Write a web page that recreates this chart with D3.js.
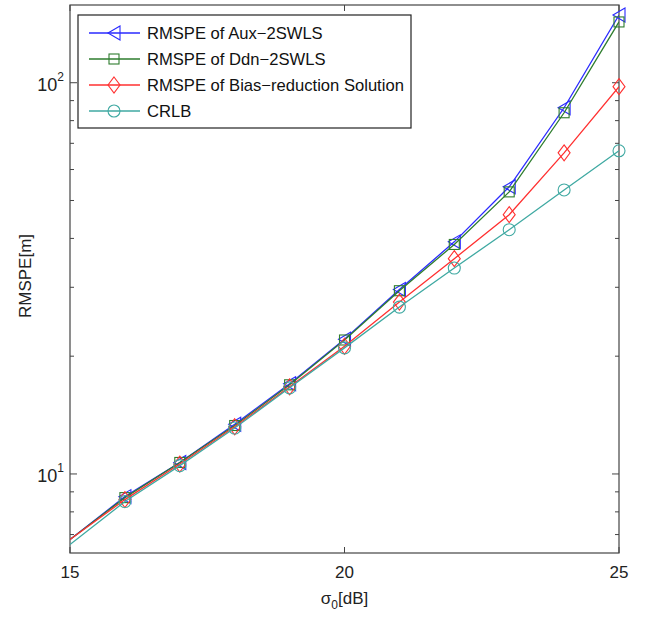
<!DOCTYPE html>
<html>
<head>
<meta charset="utf-8">
<script src="https://cdn.jsdelivr.net/npm/d3@7.9.0/dist/d3.min.js"></script>
<style>
  body { margin: 0; background: #fff; }
  svg { font-family: "Liberation Sans", Arial, sans-serif; }
</style>
</head>
<body>
<svg id="chart" width="649" height="619"></svg>
<script>
// data
const sigma = [15, 16, 17, 18, 19, 20, 21, 22, 23, 24, 25];
const aux  = [6.8, 8.75, 10.7, 13.4, 17.0, 22.1, 29.6, 39.2, 54.2, 86.3, 149];
const ddn  = [6.8, 8.7, 10.7, 13.3, 16.9, 22.0, 29.4, 38.6, 52.6, 83.8, 143];
const bias = [6.8, 8.6, 10.6, 13.2, 16.7, 21.2, 27.5, 35.5, 46.0, 66.2, 97.7];
const crlb = [6.6, 8.5, 10.5, 13.1, 16.6, 21.0, 26.7, 33.6, 42.1, 53.2, 67.0];
const seriesNames = ['RMSPE of Aux\u22122SWLS', 'RMSPE of Ddn\u22122SWLS', 'RMSPE of Bias\u2212reduction Solution', 'CRLB'];
const xTicks = [15, 20, 25];
const yMajor = [10, 100];

const series = [
  { name: seriesNames[0], values: aux,  color: '#2a2aff', marker: 'tri' },
  { name: seriesNames[1], values: ddn,  color: '#2e7d2e', marker: 'square' },
  { name: seriesNames[2], values: bias, color: '#ff3030', marker: 'diamond' },
  { name: seriesNames[3], values: crlb, color: '#3fa9a2', marker: 'circle' }
];

const svg = d3.select('#chart');
const m = { left: 70, right: 30, top: 5, bottom: 66 };
const W = 649 - m.left - m.right, H = 619 - m.top - m.bottom;

const x = d3.scaleLinear().domain([15, 25]).range([m.left, m.left + W]);
const y = d3.scaleLog().domain([6.28, 158]).range([m.top + H, m.top]);

const axisColor = '#444';

// frame
svg.append('rect')
  .attr('x', m.left).attr('y', m.top).attr('width', W).attr('height', H)
  .attr('fill', 'none').attr('stroke', axisColor).attr('stroke-width', 1.2);

// ticks (inward, both sides)
const g = svg.append('g');
xTicks.forEach(t => {
  g.append('line').attr('x1', x(t)).attr('x2', x(t)).attr('y1', m.top + H).attr('y2', m.top + H - 6)
    .attr('stroke', axisColor);
  g.append('line').attr('x1', x(t)).attr('x2', x(t)).attr('y1', m.top).attr('y2', m.top + 6)
    .attr('stroke', axisColor);
  g.append('text').attr('x', x(t)).attr('y', m.top + H + 25).attr('text-anchor', 'middle')
    .attr('font-size', 17).attr('fill', '#222').text(t);
});

const minor = [];
[1, 10, 100].forEach(d => { for (let k = 2; k <= 9; k++) minor.push(d * k); });
minor.filter(v => v >= y.domain()[0] && v <= y.domain()[1]).forEach(v => {
  g.append('line').attr('x1', m.left).attr('x2', m.left + 4).attr('y1', y(v)).attr('y2', y(v)).attr('stroke', axisColor);
  g.append('line').attr('x1', m.left + W).attr('x2', m.left + W - 4).attr('y1', y(v)).attr('y2', y(v)).attr('stroke', axisColor);
});
yMajor.forEach(v => {
  g.append('line').attr('x1', m.left).attr('x2', m.left + 7).attr('y1', y(v)).attr('y2', y(v)).attr('stroke', axisColor);
  g.append('line').attr('x1', m.left + W).attr('x2', m.left + W - 7).attr('y1', y(v)).attr('y2', y(v)).attr('stroke', axisColor);
  const t = g.append('text').attr('x', m.left - 6).attr('y', y(v) + 8).attr('text-anchor', 'end')
    .attr('font-size', 18).attr('fill', '#222');
  t.append('tspan').text('10');
  t.append('tspan').attr('dy', -10).attr('font-size', 12).text(Math.round(Math.log10(v)));
});

// axis labels
const xl = svg.append('text').attr('x', x(20)).attr('y', 604).attr('text-anchor', 'middle')
  .attr('font-size', 17).attr('fill', '#222');
xl.append('tspan').text('\u03c3');
xl.append('tspan').attr('dy', 5).attr('font-size', 12).text('0');
xl.append('tspan').attr('dy', -5).text('[dB]');

svg.append('text').attr('transform', 'translate(31,276) rotate(-90)')
  .attr('text-anchor', 'middle').attr('font-size', 17).attr('fill', '#222').text('RMSPE[m]');

// lines
svg.append('clipPath').attr('id', 'clip').append('rect')
  .attr('x', m.left).attr('y', m.top).attr('width', W).attr('height', H);

const line = d3.line().x((d, i) => x(sigma[i])).y(d => y(d));

function drawMarker(sel, type, color) {
  const p = { fill: 'none', stroke: color, 'stroke-width': 1.1 };
  let el;
  if (type === 'tri') el = sel.append('path').attr('d', 'M-6,0L6,-7L6,7Z');
  else if (type === 'square') el = sel.append('rect').attr('x', -5).attr('y', -5).attr('width', 10).attr('height', 10);
  else if (type === 'diamond') el = sel.append('path').attr('d', 'M0,-8L6,0L0,8L-6,0Z');
  else el = sel.append('circle').attr('r', 6);
  Object.entries(p).forEach(([k, v]) => el.attr(k, v));
}

series.forEach(s => {
  svg.append('path').datum(s.values).attr('d', line).attr('fill', 'none')
    .attr('stroke', s.color).attr('stroke-width', 1.3).attr('clip-path', 'url(#clip)');
  s.values.forEach((v, i) => {
    if (i === 0) return; // no marker on the left edge
    const mg = svg.append('g').attr('transform', `translate(${x(sigma[i])},${y(v)})`);
    drawMarker(mg, s.marker, s.color);
  });
});

// legend
const lg = svg.append('g');
lg.append('rect').attr('x', 78).attr('y', 15).attr('width', 333).attr('height', 113)
  .attr('fill', '#fff').attr('stroke', '#222').attr('stroke-width', 1.2);
series.forEach((s, i) => {
  const yy = 33 + i * 26;
  lg.append('line').attr('x1', 89).attr('x2', 140).attr('y1', yy).attr('y2', yy)
    .attr('stroke', s.color).attr('stroke-width', 1.3);
  drawMarker(lg.append('g').attr('transform', `translate(114,${yy})`), s.marker, s.color);
  lg.append('text').attr('x', 147).attr('y', yy + 6).attr('font-size', 16.6).attr('fill', '#111')
    .text(s.name);
});
</script>
</body>
</html>
